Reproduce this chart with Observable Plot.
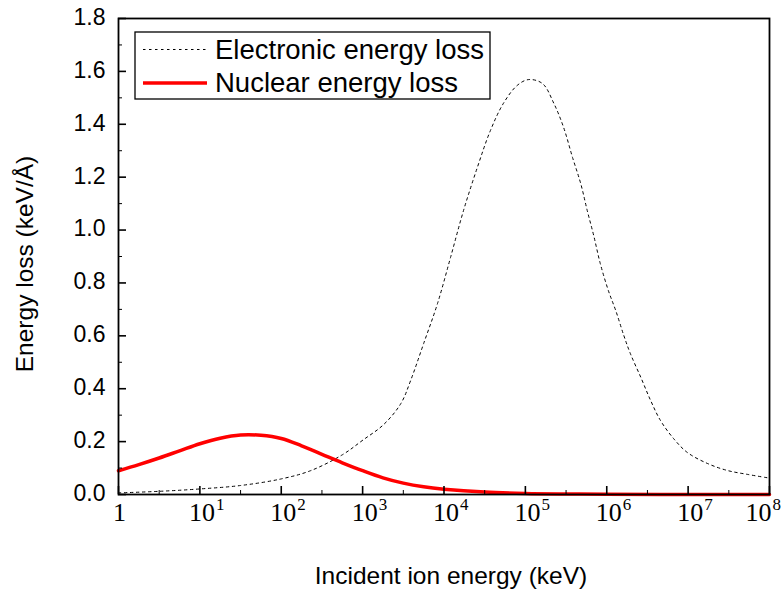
<!DOCTYPE html>
<html>
<head>
<meta charset="utf-8">
<script src="https://cdn.jsdelivr.net/npm/d3@7"></script>
<script src="https://cdn.jsdelivr.net/npm/@observablehq/plot@0.6"></script>
<style>
  body { margin: 0; background: #fff; }
  #chart { width: 784px; height: 595px; }
</style>
</head>
<body>
<div id="chart"></div>
<script>
// Electronic stopping: log10(incident energy / keV) and energy loss (keV/Å)
const electronicLogE = [0.00, 0.50, 1.00, 1.50, 2.00, 2.36, 2.75, 3.00, 3.26, 3.47, 3.59, 3.75, 3.92, 4.08, 4.24, 4.41, 4.57, 4.73, 4.90, 5.04, 5.21, 5.35, 5.47, 5.58, 5.68, 5.76, 5.84, 5.92, 6.02, 6.11, 6.21, 6.29, 6.42, 6.54, 6.66, 6.82, 6.99, 7.24, 7.48, 7.73, 8.00];
const electronicLoss = [0.006, 0.012, 0.021, 0.034, 0.059, 0.090, 0.150, 0.205, 0.265, 0.344, 0.431, 0.571, 0.722, 0.896, 1.074, 1.237, 1.376, 1.479, 1.547, 1.569, 1.554, 1.479, 1.388, 1.274, 1.176, 1.074, 0.979, 0.874, 0.771, 0.696, 0.601, 0.533, 0.442, 0.355, 0.280, 0.212, 0.159, 0.117, 0.091, 0.076, 0.062];

// Nuclear stopping: log10(incident energy / keV) and energy loss (keV/Å)
const nuclearLogE = [0.00, 0.25, 0.50, 0.75, 1.00, 1.25, 1.50, 1.75, 2.00, 2.25, 2.50, 2.75, 3.00, 3.25, 3.50, 3.75, 4.00, 4.50, 5.00, 5.50, 6.00, 7.00, 8.00];
const nuclearLoss = [0.090, 0.113, 0.138, 0.165, 0.192, 0.213, 0.225, 0.224, 0.212, 0.184, 0.152, 0.120, 0.090, 0.063, 0.043, 0.029, 0.020, 0.009, 0.004, 0.002, 0.001, 0.0003, 0.0001];

// Axis ticks
const yTicks = [0, 0.2, 0.4, 0.6, 0.8, 1.0, 1.2, 1.4, 1.6, 1.8];
const yMinorTicks = [0.1, 0.3, 0.5, 0.7, 0.9, 1.1, 1.3, 1.5, 1.7];
const xExponents = [0, 1, 2, 3, 4, 5, 6, 7, 8];
const xMinorExponents = [0.5, 1.5, 2.5, 3.5, 4.5, 5.5, 6.5, 7.5];

const seriesNames = ["Electronic energy loss", "Nuclear energy loss"];
const xTitle = "Incident ion energy (keV)";
const yTitle = "Energy loss (keV/Å)";

const electronic = electronicLogE.map((l, i) => ({E: 10 ** l, loss: electronicLoss[i]}));
const nuclear = nuclearLogE.map((l, i) => ({E: 10 ** l, loss: nuclearLoss[i]}));

const W = 784, H = 595;
const mL = 118, mR = 15, mT = 18, mB = 101;
const fw = W - mL - mR, fh = H - mT - mB;
const sans = "'Liberation Sans', Arial, Helvetica, sans-serif";
const serif = "'Liberation Serif', 'Times New Roman', serif";
const dash = "2.5,3.5";

const innerExp = xExponents.filter(k => k > 0 && k < 8);
const lastExp = xExponents.filter(k => k === 8);

const chart = Plot.plot({
  width: W,
  height: H,
  marginLeft: mL,
  marginRight: mR,
  marginTop: mT,
  marginBottom: mB,
  style: {fontFamily: sans, background: "#fff", color: "#000"},
  x: {type: "log", domain: [1, 1e8], axis: null},
  y: {domain: [0, 1.8], axis: null},
  marks: [
    Plot.line(electronic, {x: "E", y: "loss", stroke: "#000", strokeWidth: 1, strokeDasharray: dash, curve: "catmull-rom"}),
    Plot.line(nuclear, {x: "E", y: "loss", stroke: "#ff0000", strokeWidth: 3.5, curve: "catmull-rom"}),
    Plot.frame({stroke: "#000", strokeWidth: 1.8}),
    // inward ticks on the left and bottom edges
    Plot.tickY(yTicks, {y: d => d, stroke: "#000", strokeWidth: 1.6, insetRight: fw - 8}),
    Plot.tickY(yMinorTicks, {y: d => d, stroke: "#000", strokeWidth: 1, insetRight: fw - 4}),
    Plot.tickX(xExponents, {x: k => 10 ** k, stroke: "#000", strokeWidth: 1.6, insetTop: fh - 8}),
    Plot.tickX(xMinorExponents, {x: k => 10 ** k, stroke: "#000", strokeWidth: 1, insetTop: fh - 4}),
    // y tick labels
    Plot.text(yTicks, {y: d => d, text: d => d.toFixed(1), frameAnchor: "left", textAnchor: "end", dx: -13, dy: -1, fontSize: 23, fill: "#000"}),
    // x tick labels: 1, then powers of ten
    Plot.text(xExponents.filter(k => k === 0), {x: k => 10 ** k, text: () => "1", frameAnchor: "bottom", dy: 26, dx: 1, fontFamily: serif, fontSize: 26, fill: "#000"}),
    Plot.text(innerExp, {x: k => 10 ** k, text: () => "10", frameAnchor: "bottom", dy: 26, dx: 2, fontFamily: serif, fontSize: 26, fill: "#000"}),
    Plot.text(innerExp, {x: k => 10 ** k, text: k => String(k), frameAnchor: "bottom", textAnchor: "start", dy: 15, dx: 16, fontFamily: serif, fontSize: 17, fill: "#000"}),
    Plot.text(lastExp, {x: k => 10 ** k, text: () => "10", frameAnchor: "bottom", dy: 26, dx: -11, fontFamily: serif, fontSize: 26, fill: "#000"}),
    Plot.text(lastExp, {x: k => 10 ** k, text: k => String(k), frameAnchor: "bottom", textAnchor: "start", dy: 15, dx: 3, fontFamily: serif, fontSize: 17, fill: "#000"})
  ]
});

document.getElementById("chart").append(chart);

// Axis titles and legend
const svg = d3.select(chart);
svg.append("text")
  .attr("x", 451).attr("y", 584)
  .attr("text-anchor", "middle")
  .attr("font-family", sans).attr("font-size", 24.5).attr("fill", "#000")
  .text(xTitle);
svg.append("text")
  .attr("transform", "translate(33,264) rotate(-90)")
  .attr("text-anchor", "middle")
  .attr("font-family", sans).attr("font-size", 24.5).attr("fill", "#000")
  .text(yTitle);

const legend = svg.append("g").attr("text-anchor", "start");
legend.append("rect")
  .attr("x", 135).attr("y", 32).attr("width", 355).attr("height", 67)
  .attr("fill", "#fff").attr("stroke", "#000").attr("stroke-width", 1.3);
legend.append("line")
  .attr("x1", 143).attr("x2", 207).attr("y1", 49.5).attr("y2", 49.5)
  .attr("stroke", "#000").attr("stroke-width", 1).attr("stroke-dasharray", dash);
legend.append("line")
  .attr("x1", 143).attr("x2", 207).attr("y1", 83).attr("y2", 83)
  .attr("stroke", "#ff0000").attr("stroke-width", 3.5);
legend.selectAll("text.entry").data(seriesNames).join("text")
  .attr("class", "entry")
  .attr("x", 215).attr("y", (d, i) => i === 0 ? 59 : 92)
  .attr("text-anchor", "start")
  .attr("font-family", sans).attr("font-size", 27.5).attr("fill", "#000")
  .text(d => d);
</script>
</body>
</html>
